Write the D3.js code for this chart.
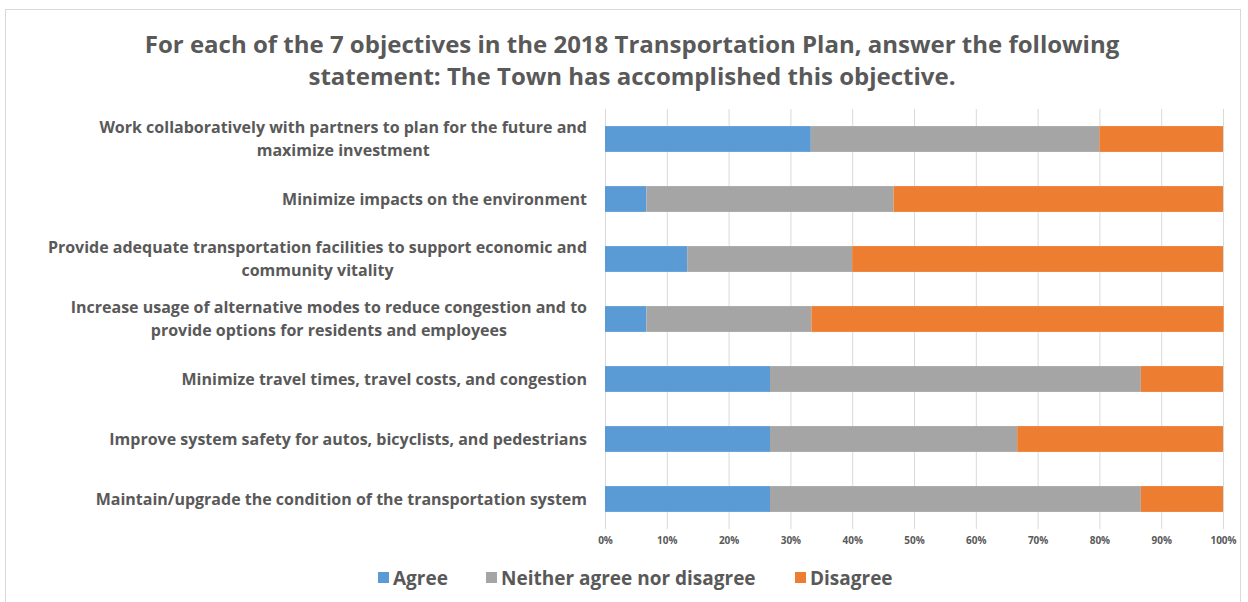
<!DOCTYPE html>
<html>
<head>
<meta charset="utf-8">
<script src="https://cdn.jsdelivr.net/npm/d3@7"></script>
<style>
  body { margin: 0; background: #fff; }
  svg { font-family: "Open Sans", Lato, sans-serif; }
</style>
</head>
<body>
<script>
// survey categories, top to bottom, each split into its wrapped lines
var categories = [
    ["Work collaboratively with partners to plan for the future and", "maximize investment"],
    ["Minimize impacts on the environment"],
    ["Provide adequate transportation facilities to support economic and", "community vitality"],
    ["Increase usage of alternative modes to reduce congestion and to", "provide options for residents and employees"],
    ["Minimize travel times, travel costs, and congestion"],
    ["Improve system safety for autos, bicyclists, and pedestrians"],
    ["Maintain/upgrade the condition of the transportation system"]
];

var seriesNames = ["Agree", "Neither agree nor disagree", "Disagree"];
var agree    = [33.3, 6.7, 13.3, 6.7, 26.7, 26.7, 26.7];
var neither  = [46.7, 40.0, 26.7, 26.7, 60.0, 40.0, 60.0];
var disagree = [20.0, 53.3, 60.0, 66.7, 13.3, 33.3, 13.3];
var colors = ["#5B9BD5", "#A5A5A5", "#ED7D31"];
var ticks = [0, 10, 20, 30, 40, 50, 60, 70, 80, 90, 100];

var titleLines = [
    "For each of the 7 objectives in the 2018 Transportation Plan, answer the following",
    "statement: The Town has accomplished this objective."
];

var W = 1248, H = 602;
var textColor = "#595959";

var svg = d3.select("body").append("svg")
    .attr("width", W)
    .attr("height", H);

// outer chart border
svg.append("rect")
    .attr("x", 5.5).attr("y", 9.5)
    .attr("width", 1235).attr("height", 600)
    .attr("fill", "none")
    .attr("stroke", "#D9D9D9");

// title
svg.append("g").selectAll("text")
    .data(titleLines)
    .enter().append("text")
    .attr("x", 632)
    .attr("y", function(d, i) { return 53 + i * 32; })
    .attr("text-anchor", "middle")
    .attr("font-size", 24)
    .attr("font-weight", "bold")
    .attr("fill", textColor)
    .text(function(d) { return d; });

var xScale = d3.scaleLinear().domain([0, 100]).range([605, 1223]);
var yScale = d3.scaleBand()
    .domain(d3.range(categories.length))
    .range([109, 529])
    .paddingInner(0.57)
    .paddingOuter(0.285);

// gridlines
svg.append("g").selectAll("line")
    .data(ticks)
    .enter().append("line")
    .attr("x1", function(d) { return xScale(d) + 0.5; })
    .attr("x2", function(d) { return xScale(d) + 0.5; })
    .attr("y1", 109)
    .attr("y2", 529)
    .attr("stroke", "#D9D9D9")
    .attr("stroke-width", 1);

// stacked series
var rows = categories.map(function(c, i) {
    return { idx: i, Agree: agree[i], "Neither agree nor disagree": neither[i], Disagree: disagree[i] };
});
var stack = d3.stack().keys(seriesNames)(rows);

svg.append("g").selectAll("g")
    .data(stack)
    .enter().append("g")
    .attr("fill", function(d, i) { return colors[i]; })
    .selectAll("rect")
    .data(function(d) { return d; })
    .enter().append("rect")
    .attr("x", function(d) { return xScale(d[0]); })
    .attr("width", function(d) { return xScale(d[1]) - xScale(d[0]); })
    .attr("y", function(d) { return yScale(d.data.idx); })
    .attr("height", yScale.bandwidth());

// x-axis tick labels
var xAxis = d3.axisBottom(xScale)
    .tickValues(ticks)
    .tickSize(0)
    .tickPadding(0)
    .tickFormat(function(d) { return d + "%"; });

var xg = svg.append("g")
    .attr("transform", "translate(0,537)")
    .call(xAxis);
xg.select(".domain").remove();
xg.selectAll("text")
    .attr("font-family", "'Open Sans', Lato, sans-serif")
    .attr("font-size", 10)
    .attr("font-weight", "bold")
    .attr("fill", textColor);

// category labels: block right-aligned to 587, lines centred inside it
var labelRight = 587, lineH = 23;
var lab = svg.append("g").selectAll("g")
    .data(categories)
    .enter().append("g");

lab.each(function(lines, i) {
    var g = d3.select(this);
    var cy = yScale(i) + yScale.bandwidth() / 2;
    var t = g.selectAll("text")
        .data(lines)
        .enter().append("text")
        .attr("font-size", 16)
        .attr("font-weight", "bold")
        .attr("fill", textColor)
        .attr("text-anchor", "middle")
        .attr("dy", "0.35em")
        .attr("y", function(d, j) { return cy + (j - (lines.length - 1) / 2) * lineH; })
        .text(function(d) { return d; });
    var maxW = 0;
    t.each(function() { maxW = Math.max(maxW, this.getComputedTextLength()); });
    t.attr("x", labelRight - maxW / 2);
});

// legend
var legendX = [378, 486, 795];
var leg = svg.append("g").selectAll("g")
    .data(seriesNames)
    .enter().append("g")
    .attr("transform", function(d, i) { return "translate(" + legendX[i] + ",578)"; });

leg.append("rect")
    .attr("x", 0).attr("y", -6)
    .attr("width", 11).attr("height", 11)
    .attr("fill", function(d, i) { return colors[i]; });

leg.append("text")
    .attr("x", 15)
    .attr("dy", "0.35em")
    .attr("font-size", 19)
    .attr("font-weight", "bold")
    .attr("fill", textColor)
    .text(function(d) { return d; });
</script>
</body>
</html>
